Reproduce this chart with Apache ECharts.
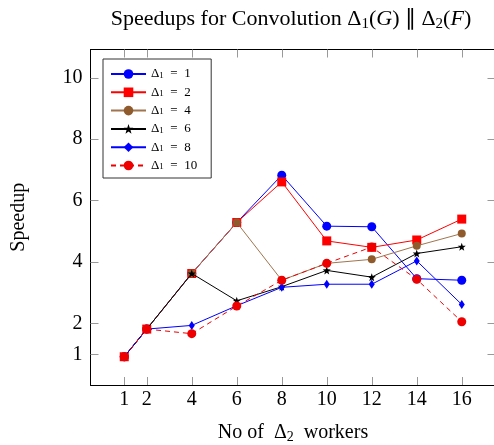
<!DOCTYPE html>
<html><head><meta charset="utf-8">
<script src="https://cdn.jsdelivr.net/npm/echarts@6/dist/echarts.min.js"></script>
<style>html,body{margin:0;padding:0;background:#fff}#c{width:494px;height:445px}</style>
</head><body><div id="c"></div>
<script>
const workers = [1, 2, 4, 6, 8, 10, 12, 14, 16];
const xTicks = [1, 2, 4, 6, 8, 10, 12, 14, 16];
const yTicks = [1, 2, 4, 6, 8, 10];
const seriesNames = ['Δ1 = 1', 'Δ1 = 2', 'Δ1 = 4', 'Δ1 = 6', 'Δ1 = 8', 'Δ1 = 10'];
const d1 = [0.92, 1.82, 3.63, 5.29, 6.83, 5.17, 5.15, 3.46, 3.41];
const d2 = [0.92, 1.82, 3.63, 5.29, 6.61, 4.69, 4.48, 4.72, 5.40];
const d4 = [0.92, 1.82, 3.63, 5.29, 3.41, 3.96, 4.09, 4.53, 4.93];
const d6 = [0.92, 1.82, 3.63, 2.74, 3.20, 3.73, 3.51, 4.28, 4.50];
const d8 = [0.92, 1.82, 1.94, 2.58, 3.18, 3.28, 3.28, 4.04, 2.62];
const d10 = [0.92, 1.82, 1.67, 2.57, 3.41, 3.96, 4.49, 3.44, 2.06];

const serif = 'Liberation Serif';
const star = 'path://M0,-10 L2.4,-3.3 L9.5,-3.1 L3.9,1.3 L5.9,8.1 L0,4.1 L-5.9,8.1 L-3.9,1.3 L-9.5,-3.1 L-2.4,-3.3 Z';
const pair = arr => workers.map((w, i) => [w, arr[i]]);

const styles = [
  {data: d1, color: '#0000ff', symbol: 'circle', size: 9},
  {data: d2, color: '#ff0000', symbol: 'rect', size: 9},
  {data: d4, color: '#8f5a2c', line: '#a0754e', symbol: 'circle', size: 8},
  {data: d6, color: '#000000', symbol: star, size: 8},
  {data: d8, color: '#0000ff', symbol: 'diamond', size: [6, 9]},
  {data: d10, color: '#ee0000', symbol: 'circle', size: 9, dashed: true}
];

const series = styles.map((s, i) => ({
  name: seriesNames[i],
  type: 'line',
  data: pair(s.data),
  symbol: s.symbol,
  symbolSize: s.size,
  showAllSymbol: true,
  itemStyle: {color: s.color, borderWidth: 0},
  lineStyle: {color: s.line || s.color, width: 1, type: s.dashed ? [5, 4] : 'solid'},
  emphasis: {disabled: true},
  animation: false,
  z: 2 + i
}));

const baseX = {
  type: 'value', min: -0.5, max: 17.5,
  splitLine: {show: false},
  axisLine: {show: true, onZero: false, lineStyle: {color: '#000', width: 1}},
  axisTick: {show: true, inside: true, length: 8, customValues: xTicks, lineStyle: {color: '#999'}},
};
const baseY = {
  type: 'value', min: 0, max: 10.92,
  splitLine: {show: false},
  axisLine: {show: true, onZero: false, lineStyle: {color: '#000', width: 1}},
  axisTick: {show: true, inside: true, length: 8, customValues: yTicks, lineStyle: {color: '#999'}},
};

const txt = {fontFamily: serif, fontSize: 20, color: '#000', fontWeight: 'normal'};
const sub = {fontFamily: serif, fontSize: 14, color: '#000', fontWeight: 'normal', verticalAlign: 'bottom', padding: [9, 0, 0, 0]};
const ttxt = {fontFamily: serif, fontSize: 22, color: '#000', fontWeight: 'normal'};
const tsub = {fontFamily: serif, fontSize: 15, color: '#000', fontWeight: 'normal', verticalAlign: 'bottom', padding: [10, 0, 0, 0]};

const chart = echarts.init(document.getElementById('c'), null, {renderer: 'canvas'});
chart.setOption({
  backgroundColor: '#fff',
  animation: false,
  title: {
    text: '{a|Speedups for Convolution Δ}{s|1}{a|(}{i|G}{a|) ∥ Δ}{s|2}{a|(}{i|F}{a|)}',
    left: 286, top: 2, textAlign: 'center',
    textStyle: {
      fontWeight: 'normal',
      rich: {
        a: ttxt,
        i: Object.assign({}, ttxt, {fontStyle: 'italic'}),
        s: tsub
      }
    }
  },
  grid: {left: 90.5, right: -1.5, top: 49.5, bottom: 60, containLabel: false, outerBoundsMode: 'none'},
  legend: {
    orient: 'vertical', left: 103, top: 59,
    padding: [8, 14, 6, 7],
    itemWidth: 35, itemHeight: 12, itemGap: 4.8,
    backgroundColor: '#fff', borderColor: '#333', borderWidth: 1,
    data: seriesNames,
    formatter: name => {
      const v = name.split('= ')[1];
      return '{a|Δ}{s|1}{a|\u2002=\u2002' + v + '}';
    },
    textStyle: {
      lineHeight: 12,
      rich: {
        a: {fontFamily: serif, fontSize: 13, lineHeight: 12, color: '#000'},
        s: {fontFamily: serif, fontSize: 9, lineHeight: 8, color: '#000', verticalAlign: 'bottom', padding: [4, 0, 0, 0]}
      }
    }
  },
  xAxis: [
    Object.assign({}, baseX, {
      position: 'bottom',
      axisLabel: {show: true, customValues: xTicks, fontFamily: serif, fontSize: 20, color: '#000', margin: 5},
      name: '{a|No of  Δ}{s|2}{a|  workers}',
      nameLocation: 'middle', nameGap: 36,
      nameTextStyle: {rich: {a: txt, s: sub}}
    }),
    Object.assign({}, baseX, {position: 'top', axisLabel: {show: false}})
  ],
  yAxis: [
    Object.assign({}, baseY, {
      position: 'left',
      axisLabel: {show: true, customValues: yTicks, fontFamily: serif, fontSize: 20, color: '#000', margin: 8},
      name: 'Speedup', nameLocation: 'middle', nameGap: 62,
      nameTextStyle: {fontFamily: serif, fontSize: 20, color: '#000'}
    }),
    Object.assign({}, baseY, {position: 'right', axisLabel: {show: false}})
  ],
  series: series
});
</script>
</body></html>
